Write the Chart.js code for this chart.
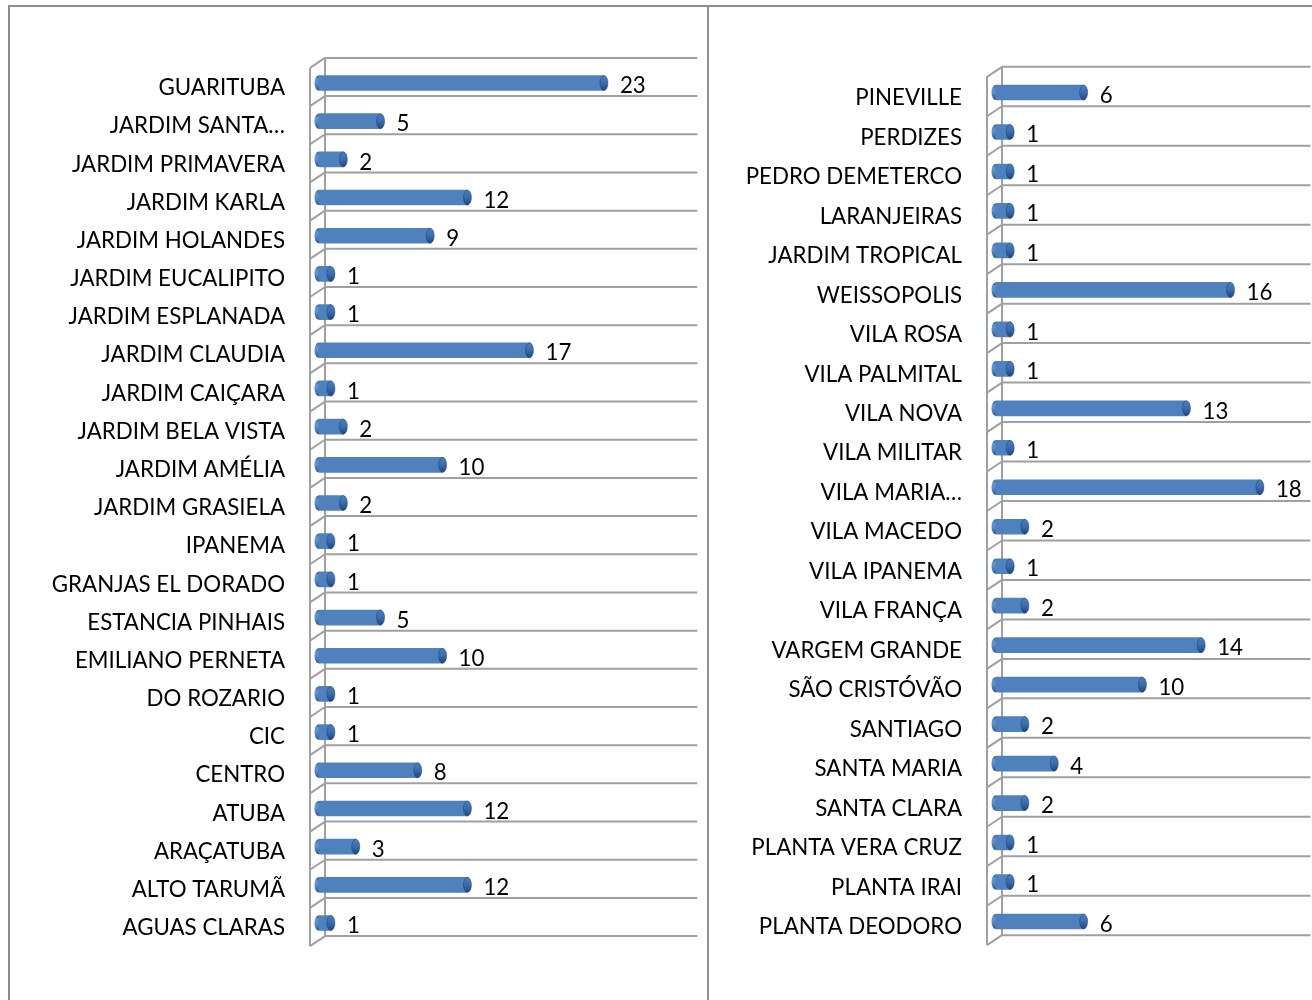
<!DOCTYPE html>
<html>
<head>
<meta charset="utf-8">
<script src="https://cdn.jsdelivr.net/npm/chart.js@4.4.1/dist/chart.umd.min.js"></script>
<style>
  html, body { margin: 0; padding: 0; background: #fff; overflow: hidden; }
  .frame { position: absolute; background: #8c8c8c; }
  canvas { position: absolute; top: 0; }
</style>
</head>
<body>
<div class="frame" style="left:8px;top:5px;width:1304px;height:2px"></div>
<div class="frame" style="left:8px;top:5px;width:2px;height:995px"></div>
<div class="frame" style="left:707px;top:5px;width:2px;height:995px"></div>
<canvas id="chartLeft" style="left:10px" width="696" height="1000"></canvas>
<canvas id="chartRight" style="left:710px" width="602" height="1000"></canvas>
<script>
const leftLabels = ["GUARITUBA", "JARDIM SANTA…", "JARDIM PRIMAVERA", "JARDIM KARLA",
  "JARDIM HOLANDES", "JARDIM EUCALIPITO", "JARDIM ESPLANADA", "JARDIM CLAUDIA",
  "JARDIM CAIÇARA", "JARDIM BELA VISTA", "JARDIM AMÉLIA", "JARDIM GRASIELA",
  "IPANEMA", "GRANJAS EL DORADO", "ESTANCIA PINHAIS", "EMILIANO PERNETA",
  "DO ROZARIO", "CIC", "CENTRO", "ATUBA", "ARAÇATUBA", "ALTO TARUMÃ", "AGUAS CLARAS"];
const leftValues = [23, 5, 2, 12, 9, 1, 1, 17, 1, 2, 10, 2, 1, 1, 5, 10, 1, 1, 8, 12, 3, 12, 1];

const rightLabels = ["PINEVILLE", "PERDIZES", "PEDRO DEMETERCO", "LARANJEIRAS",
  "JARDIM TROPICAL", "WEISSOPOLIS", "VILA ROSA", "VILA PALMITAL", "VILA NOVA",
  "VILA MILITAR", "VILA MARIA…", "VILA MACEDO", "VILA IPANEMA", "VILA FRANÇA",
  "VARGEM GRANDE", "SÃO CRISTÓVÃO", "SANTIAGO", "SANTA MARIA", "SANTA CLARA",
  "PLANTA VERA CRUZ", "PLANTA IRAI", "PLANTA DEODORO"];
const rightValues = [6, 1, 1, 1, 1, 16, 1, 1, 13, 1, 18, 2, 1, 2, 14, 10, 2, 4, 2, 1, 1, 6];

const FONT = "Lato";
const FONT_SIZE = 22.3;

// 3d wall offsets (back wall vs front edge)
const BACK_DX = 6.5, BACK_DY = -6, FRONT_DX = -8.5, FRONT_DY = 4;

const barGradient = (ctx, top, bottom) => {
  let g = ctx.createLinearGradient(0, top, 0, bottom);
  g.addColorStop(0, "#2f5d9c");
  g.addColorStop(0.25, "#5f94d8");
  g.addColorStop(0.5, "#5a8ed2");
  g.addColorStop(0.8, "#3f70b2");
  g.addColorStop(1, "#244c85");
  return g;
};

const wallPlugin = {
  id: "wall",
  beforeDatasetsDraw(chart) {
    const { ctx, chartArea } = chart;
    const y = chart.scales.y;
    const n = y.ticks.length;
    const half = (y.getPixelForValue(1) - y.getPixelForValue(0)) / 2;
    const bounds = [];
    for (let i = 0; i <= n; i++) {
      bounds.push(i < n ? y.getPixelForValue(i) - half : y.getPixelForValue(n - 1) + half);
    }
    ctx.save();
    ctx.strokeStyle = "#a0a0a0";
    ctx.lineWidth = 2;
    const bx = chartArea.left + BACK_DX, fx = chartArea.left + FRONT_DX;
    ctx.beginPath();
    bounds.forEach((b) => {
      ctx.moveTo(bx, b + BACK_DY);
      ctx.lineTo(chartArea.right + BACK_DX, b + BACK_DY);
      ctx.moveTo(bx, b + BACK_DY);
      ctx.lineTo(fx, b + FRONT_DY);
    });
    ctx.moveTo(bx, bounds[0] + BACK_DY);
    ctx.lineTo(bx, bounds[n] + BACK_DY);
    ctx.moveTo(fx, bounds[0] + FRONT_DY);
    ctx.lineTo(fx, bounds[n] + FRONT_DY);
    ctx.stroke();
    // rounded start of each cylinder
    chart.getDatasetMeta(0).data.forEach((bar) => {
      const h = bar.height / 2;
      ctx.beginPath();
      ctx.ellipse(bar.base, bar.y, 4, h, 0, 0, Math.PI * 2);
      ctx.fillStyle = barGradient(ctx, bar.y - h, bar.y + h);
      ctx.fill();
    });
    ctx.restore();
  },
  afterDatasetsDraw(chart) {
    const { ctx } = chart;
    const values = chart.data.datasets[0].data;
    ctx.save();
    chart.getDatasetMeta(0).data.forEach((bar, i) => {
      const h = bar.height / 2;
      let g = ctx.createLinearGradient(0, bar.y - h, 0, bar.y + h);
      g.addColorStop(0, "#4a7ec0");
      g.addColorStop(0.5, "#3a6cae");
      g.addColorStop(1, "#22467a");
      ctx.beginPath();
      ctx.ellipse(bar.x, bar.y, 4, h, 0, 0, Math.PI * 2);
      ctx.fillStyle = g;
      ctx.fill();
      ctx.strokeStyle = "rgba(30,60,110,0.6)";
      ctx.lineWidth = 0.8;
      ctx.stroke();
      ctx.fillStyle = "#000";
      ctx.font = FONT_SIZE + "px " + FONT;
      ctx.textBaseline = "middle";
      ctx.fillText(values[i], bar.x + 16, bar.y + 3);
    });
    ctx.restore();
  },
};

const makeChart = (id, labels, values, opts) =>
  new Chart(document.getElementById(id), {
    type: "bar",
    data: {
      labels: labels,
      datasets: [
        {
          data: values,
          barThickness: 15,
          borderWidth: 0,
          backgroundColor: (context) => {
            const { ctx, chartArea } = context.chart;
            if (!chartArea) return "#4f81bd";
            const el = context.element;
            if (!el || el.y === undefined) return "#4f81bd";
            return barGradient(ctx, el.y - 7.5, el.y + 7.5);
          },
        },
      ],
    },
    options: {
      indexAxis: "y",
      responsive: false,
      animation: false,
      layout: { padding: opts.padding },
      scales: {
        x: { display: false, min: 0, max: opts.max },
        y: {
          grid: { display: false, drawTicks: false },
          border: { display: false },
          afterFit: (scale) => { scale.width = opts.axisWidth; },
          ticks: {
            padding: 33.5,
            labelOffset: opts.labelOffset,
            color: "#000",
            font: { family: FONT, size: FONT_SIZE },
          },
        },
      },
      plugins: { legend: { display: false }, tooltip: { enabled: false } },
    },
    plugins: [wallPlugin],
  });

makeChart("chartLeft", leftLabels, leftValues, {
  max: 30,
  axisWidth: 308.5,
  labelOffset: 5,
  padding: { left: 0, right: 15.2, top: 63.9, bottom: 57.9 },
});

makeChart("chartRight", rightLabels, rightValues, {
  max: 21,
  axisWidth: 285.5,
  labelOffset: 5.5,
  padding: { left: 0, right: 8, top: 72.8, bottom: 58.8 },
});
</script>
</body>
</html>
